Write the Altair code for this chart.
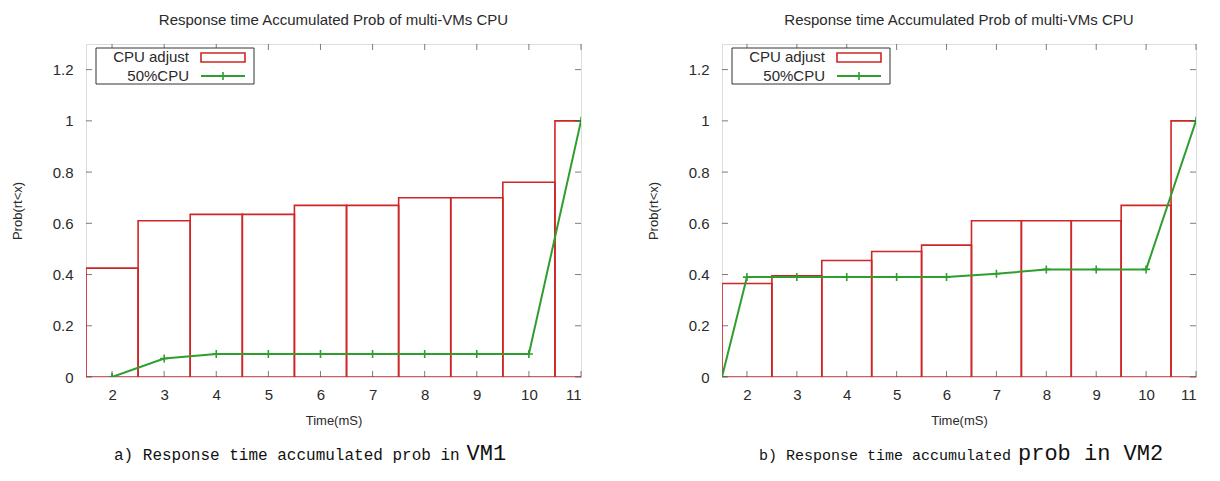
import altair as alt
import pandas as pd

# ---------------- data ----------------
x_ticks = [2, 3, 4, 5, 6, 7, 8, 9, 10, 11]
y_ticks = [0, 0.2, 0.4, 0.6, 0.8, 1.0, 1.2]

vm1_time = [2, 3, 4, 5, 6, 7, 8, 9, 10, 11]
vm1_adjust = [0.425, 0.61, 0.635, 0.635, 0.67, 0.67, 0.70, 0.70, 0.76, 1.0]
vm1_line_time = [2, 3, 4, 5, 6, 7, 8, 9, 10, 11]
vm1_half = [0.0, 0.072, 0.09, 0.09, 0.09, 0.09, 0.09, 0.09, 0.09, 1.0]

vm2_time = [2, 3, 4, 5, 6, 7, 8, 9, 10, 11]
vm2_adjust = [0.365, 0.395, 0.455, 0.49, 0.515, 0.61, 0.61, 0.61, 0.67, 1.0]
vm2_line_time = [1.5, 2, 3, 4, 5, 6, 7, 8, 9, 10, 11]
vm2_half = [0.0, 0.39, 0.39, 0.39, 0.39, 0.39, 0.403, 0.42, 0.42, 0.42, 1.0]

chart_title = "Response time Accumulated Prob  of multi-VMs CPU"
legend_labels = ["CPU adjust", "50%CPU"]
x_title = "Time(mS)"
y_title = "Prob(rt<x)"
caption_a = ["a) Response time accumulated prob in", "VM1"]
caption_b = ["b) Response time accumulated", "prob in VM2"]

# ---------------- style ----------------
RED = "#cf2525"
GREEN = "#2f9e2f"
TXT = "#2a2a2a"
SANS = "Liberation Sans"
MONO = "Liberation Mono"
H = 333
PLUS = "M-1,0L1,0M0,-1L0,1"

xscale = alt.Scale(domain=[1.5, 11], nice=False, zero=False)
yscale = alt.Scale(domain=[0, 1.3], nice=False, zero=True)
xaxis = alt.Axis(values=x_ticks, format="d", title=x_title, grid=False, ticks=False,
                 domain=False, labelPadding=10, titlePadding=12, labelFontSize=15,
                 titleFontSize=13, titleFontWeight="normal", labelColor=TXT,
                 titleColor=TXT, labelFont=SANS, titleFont=SANS)
yaxis = alt.Axis(values=y_ticks, format=".1~f", title=y_title, grid=False, ticks=False,
                 domain=False, labelPadding=13, titlePadding=28, labelFontSize=15,
                 titleFontSize=13, titleFontWeight="normal", labelColor=TXT,
                 titleColor=TXT, labelFont=SANS, titleFont=SANS)


def one():
    return pd.DataFrame({"k": [0]})


def panel(times, adjust, lt, lv, W, cap, cap_x, fs_small, fs_big):
    bars_df = pd.DataFrame({"time": times, "p": adjust})
    line_df = pd.DataFrame({"time": lt, "p": lv})
    yt_df = pd.DataFrame({"v": y_ticks})
    xt_df = pd.DataFrame({"v": x_ticks})

    bars = alt.Chart(bars_df).transform_calculate(
        x0="datum.time - 0.5", x1="datum.time + 0.5"
    ).mark_bar(clip=True, fill="white", fillOpacity=0, stroke=RED, strokeWidth=1.6).encode(
        x=alt.X("x0:Q", scale=xscale, axis=xaxis),
        x2="x1:Q",
        y=alt.Y("p:Q", scale=yscale, axis=yaxis),
        y2=alt.datum(0),
    )
    line = alt.Chart(line_df).mark_line(clip=True, color=GREEN, strokeWidth=2).encode(
        x=alt.X("time:Q", scale=xscale, axis=xaxis),
        y=alt.Y("p:Q", scale=yscale, axis=yaxis),
    )
    pts = alt.Chart(line_df).mark_point(clip=True, shape=PLUS, filled=False, size=64,
                                        color=GREEN, strokeWidth=1.6, opacity=1).encode(
        x=alt.X("time:Q", scale=xscale, axis=xaxis),
        y=alt.Y("p:Q", scale=yscale, axis=yaxis),
    )
    # inward mirror ticks like gnuplot
    tk = dict(color="#444", size=6, thickness=1)
    lt_ = alt.Chart(yt_df).mark_tick(orient="horizontal", xOffset=3, **tk).encode(
        x=alt.value(0), y=alt.Y("v:Q", scale=yscale, axis=yaxis))
    rt_ = alt.Chart(yt_df).mark_tick(orient="horizontal", xOffset=-3, **tk).encode(
        x=alt.value(W), y=alt.Y("v:Q", scale=yscale, axis=yaxis))
    bt_ = alt.Chart(xt_df).mark_tick(orient="vertical", yOffset=-3, **tk).encode(
        y=alt.value(H), x=alt.X("v:Q", scale=xscale, axis=xaxis))
    tt_ = alt.Chart(xt_df).mark_tick(orient="vertical", yOffset=3, **tk).encode(
        y=alt.value(0), x=alt.X("v:Q", scale=xscale, axis=xaxis))

    # legend (gnuplot style: label then sample)
    box = alt.Chart(one()).mark_rect(fill="white", stroke="#333", strokeWidth=1).encode(
        x=alt.value(10), x2=alt.value(168), y=alt.value(4), y2=alt.value(40))
    l1 = alt.Chart(one()).mark_text(align="right", baseline="middle", font=SANS,
                                    fontSize=15, color=TXT).encode(
        x=alt.value(103), y=alt.value(13), text=alt.value(legend_labels[0]))
    l2 = alt.Chart(one()).mark_text(align="right", baseline="middle", font=SANS,
                                    fontSize=15, color=TXT).encode(
        x=alt.value(103), y=alt.value(32), text=alt.value(legend_labels[1]))
    sw = alt.Chart(one()).mark_rect(fillOpacity=0, stroke=RED, strokeWidth=1.6).encode(
        x=alt.value(115), x2=alt.value(159), y=alt.value(9), y2=alt.value(18))
    sl = alt.Chart(one()).mark_rule(color=GREEN, strokeWidth=2).encode(
        x=alt.value(115), x2=alt.value(159), y=alt.value(32))
    sp = alt.Chart(one()).mark_point(shape=PLUS, filled=False, size=64, color=GREEN,
                                     strokeWidth=1.6, opacity=1).encode(
        x=alt.value(137), y=alt.value(32))

    # caption under the panel
    c1 = alt.Chart(one()).mark_text(align="left", baseline="alphabetic", font=MONO,
                                    fontSize=fs_small, color="#111").encode(
        x=alt.value(cap_x), y=alt.value(H + 83), text=alt.value(cap[0]))
    c2 = alt.Chart(one()).mark_text(align="left", baseline="alphabetic", font=MONO,
                                    fontSize=fs_big, color="#111").encode(
        x=alt.value(cap_x + len(cap[0]) * 0.6 * fs_small + 7), y=alt.value(H + 83),
        text=alt.value(cap[1]))

    return alt.layer(bars, line, pts, lt_, rt_, bt_, tt_, box, l1, l2, sw, sl, sp, c1, c2).properties(
        width=W, height=H,
        title=alt.TitleParams(chart_title, fontSize=15, font=SANS, color=TXT,
                              fontWeight="normal", anchor="middle", offset=16),
    )


left = panel(vm1_time, vm1_adjust, vm1_line_time, vm1_half, 495, caption_a, 28, 16, 22)
right = panel(vm2_time, vm2_adjust, vm2_line_time, vm2_half, 474, caption_b, 37, 15, 22)

chart = alt.hconcat(left, right, spacing=64).properties(
    padding={"left": 2, "top": 4, "right": 0, "bottom": 6}
).configure_view(stroke="#333", strokeWidth=1).configure(background="white")

chart.save("out.html", embed_options={"renderer": "svg", "actions": False})
